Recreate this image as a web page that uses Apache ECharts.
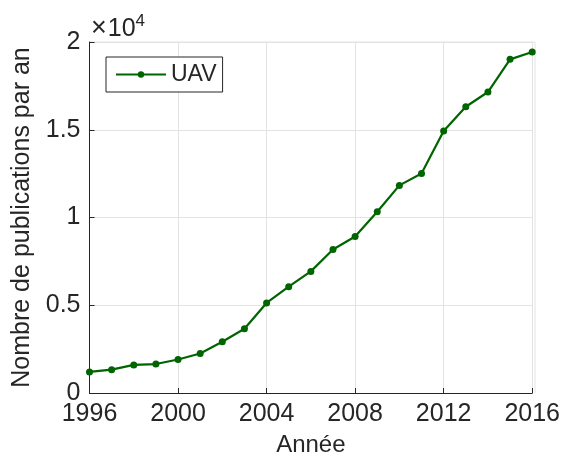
<!DOCTYPE html>
<html>
<head>
<meta charset="utf-8">
<script src="https://cdn.jsdelivr.net/npm/echarts@6/dist/echarts.min.js"></script>
<style>html,body{margin:0;padding:0;background:#fff}#c{width:563px;height:465px}</style>
</head>
<body>
<div id="c"></div>
<script>
const years = [1996,1997,1998,1999,2000,2001,2002,2003,2004,2005,2006,2007,2008,2009,2010,2011,2012,2013,2014,2015,2016];
const uav = [1200,1330,1600,1650,1910,2250,2920,3660,5130,6060,6930,8180,8920,10330,11830,12510,14930,16310,17150,19010,19430];
const xTicks = [1996,2000,2004,2008,2012,2016];
const yTickLabels = ['0','0.5','1','1.5','2'];
const seriesName = 'UAV';

const FONT = 'Liberation Sans, Arial, Helvetica, sans-serif';
const TXT = '#262626';
const chart = echarts.init(document.getElementById('c'), null, {renderer:'canvas'});
chart.setOption({
  animation:false,
  backgroundColor:'#fff',
  textStyle:{fontFamily:FONT, color:TXT},
  grid:{left:89.5, right:28, top:42, bottom:72, containLabel:false},
  legend:{
    left:106, top:57, orient:'horizontal',
    borderColor:TXT, borderWidth:1, backgroundColor:'#fff',
    padding:[6,6,6,9], itemWidth:50, itemHeight:8, itemGap:5,
    textStyle:{fontSize:23, color:TXT, fontFamily:FONT, padding:[0,0,0,0]},
    data:[seriesName]
  },
  xAxis:{
    type:'value', min:1996, max:2016, interval:4,
    name:'Année', nameLocation:'middle', nameGap:40,
    nameTextStyle:{fontSize:24, color:TXT, fontFamily:FONT},
    axisLine:{show:true, lineStyle:{color:TXT, width:1}},
    axisTick:{show:true, inside:true, length:5, lineStyle:{color:TXT}},
    axisLabel:{fontSize:25, color:TXT, margin:9, fontFamily:FONT,
      formatter:v=> xTicks.includes(v) ? String(v) : ''},
    splitLine:{show:true, lineStyle:{color:'#e3e3e3', width:1}}
  },
  yAxis:{
    type:'value', min:0, max:20000, interval:5000,
    name:'Nombre de publications par an', nameLocation:'middle', nameGap:50, nameRotate:90,
    nameTextStyle:{fontSize:25, color:TXT, fontFamily:FONT},
    axisLine:{show:true, lineStyle:{color:TXT, width:1}},
    axisTick:{show:true, inside:true, length:5, lineStyle:{color:TXT}},
    axisLabel:{fontSize:25, color:TXT, margin:9, fontFamily:FONT,
      formatter:v=> yTickLabels[Math.round(v/5000)]},
    splitLine:{show:true, lineStyle:{color:'#e3e3e3', width:1}}
  },
  graphic:[
    {type:'line', shape:{x1:89.5,y1:42,x2:535,y2:42}, style:{stroke:'#e3e3e3', lineWidth:1}, silent:true, z:0},
    {type:'line', shape:{x1:535,y1:42,x2:535,y2:393}, style:{stroke:'#e3e3e3', lineWidth:1}, silent:true, z:0},
    {type:'text', left:91, top:13, style:{
      text:'{x|×}{a|10}{b|4}', fill:TXT,
      rich:{x:{fontSize:27, fontFamily:FONT, fill:TXT, verticalAlign:'bottom', padding:[0,1,0,0]},
            a:{fontSize:25, fontFamily:FONT, fill:TXT, verticalAlign:'bottom'},
            b:{fontSize:17, fontFamily:FONT, fill:TXT, verticalAlign:'top', padding:[0,0,12,0]}}
    }}
  ],
  series:[{
    name:seriesName, type:'line',
    data: years.map((y,i)=>[y, uav[i]]),
    symbol:'circle', symbolSize:7,
    lineStyle:{color:'#006400', width:2.2},
    itemStyle:{color:'#006400'},
    z:5
  }]
});
</script>
</body>
</html>
